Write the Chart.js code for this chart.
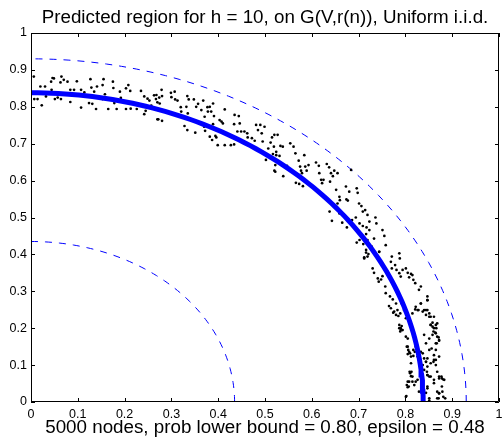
<!DOCTYPE html>
<html>
<head>
<meta charset="utf-8">
<script src="https://cdn.jsdelivr.net/npm/chart.js@4/dist/chart.umd.min.js"></script>
<style>
html, body { margin: 0; padding: 0; background: #fff; }
</style>
</head>
<body>
<canvas id="regionChart" width="503" height="439"></canvas>
<script>
// chart texts
const titleText = 'Predicted region for h = 10, on G(V,r(n)), Uniform i.i.d.';
const xLabelText = '5000 nodes, prob lower bound = 0.80, epsilon = 0.48';

// tick labels on both axes
const tickVals = [0, 0.1, 0.2, 0.3, 0.4, 0.5, 0.6, 0.7, 0.8, 0.9, 1];
const tickLabels = ['0', '0.1', '0.2', '0.3', '0.4', '0.5', '0.6', '0.7', '0.8', '0.9', '1'];

// radius of the predicted arc (solid) and of the two bounds (dashed)
const predictedRadius = 0.838;
const boundRadii = [0.435, 0.93];

// nodes, [x, y]
const nodes = [
  [0.006,0.882],[0.020,0.855],[0.007,0.821],[0.014,0.821],[0.023,0.804],[0.032,0.828],[0.030,0.855],[0.044,0.846],
  [0.046,0.878],[0.049,0.877],[0.043,0.868],[0.051,0.821],[0.057,0.825],[0.065,0.882],[0.070,0.873],[0.063,0.866],
  [0.064,0.821],[0.078,0.868],[0.084,0.846],[0.092,0.846],[0.098,0.869],[0.084,0.813],[0.107,0.798],[0.107,0.846],
  [0.114,0.839],[0.127,0.875],[0.129,0.852],[0.135,0.841],[0.124,0.810],[0.131,0.808],[0.141,0.855],[0.139,0.794],
  [0.155,0.875],[0.153,0.859],[0.158,0.834],[0.153,0.821],[0.165,0.794],[0.171,0.819],[0.175,0.868],[0.176,0.851],
  [0.178,0.810],[0.183,0.794],[0.190,0.841],[0.192,0.824],[0.203,0.794],[0.203,0.850],[0.208,0.859],[0.212,0.843],
  [0.213,0.795],[0.226,0.794],[0.235,0.843],[0.242,0.780],[0.245,0.789],[0.242,0.828],[0.249,0.822],[0.253,0.817],
  [0.257,0.803],[0.263,0.831],[0.267,0.821],[0.270,0.812],[0.274,0.825],[0.272,0.766],
  [0.268,0.832],[0.275,0.809],[0.279,0.846],[0.280,0.829],[0.270,0.766],[0.280,0.762],[0.299,0.838],[0.300,0.826],
  [0.307,0.841],[0.308,0.820],[0.313,0.817],[0.320,0.799],[0.321,0.787],[0.332,0.800],[0.334,0.829],[0.337,0.820],
  [0.335,0.782],[0.328,0.748],[0.334,0.737],[0.348,0.820],[0.353,0.800],[0.351,0.730],[0.357,0.808],[0.364,0.791],
  [0.368,0.817],[0.371,0.773],[0.370,0.746],[0.372,0.735],[0.377,0.799],[0.378,0.787],[0.382,0.800],[0.385,0.787],
  [0.389,0.809],[0.391,0.775],[0.389,0.753],[0.382,0.719],[0.387,0.710],[0.394,0.721],[0.396,0.717],[0.399,0.696],
  [0.403,0.764],[0.407,0.760],[0.410,0.755],[0.414,0.793],[0.414,0.696],[0.427,0.696],[0.434,0.698],[0.434,0.753],
  [0.435,0.778],[0.441,0.733],[0.444,0.775],[0.446,0.755],[0.449,0.733],[0.456,0.733],[0.462,0.728],[0.463,0.717],
  [0.472,0.715],[0.478,0.708],[0.481,0.751],[0.485,0.737],[0.490,0.751],[0.493,0.728],[0.495,0.706],[0.499,0.746],
  [0.507,0.687],[0.512,0.703],[0.515,0.717],[0.520,0.724],[0.527,0.724],[0.519,0.692],[0.524,0.678],[0.533,0.694],
  [0.538,0.692],[0.502,0.656],[0.522,0.642],[0.520,0.627],
  [0.517,0.672],[0.524,0.669],[0.531,0.667],[0.522,0.624],[0.539,0.612],[0.547,0.640],[0.554,0.701],[0.561,0.692],
  [0.565,0.674],[0.572,0.654],[0.575,0.638],[0.577,0.627],[0.579,0.620],[0.584,0.669],[0.586,0.638],[0.589,0.627],
  [0.593,0.642],[0.566,0.594],[0.573,0.591],[0.581,0.585],[0.609,0.649],[0.615,0.640],[0.616,0.620],[0.620,0.602],
  [0.622,0.593],[0.625,0.602],[0.632,0.645],[0.637,0.636],[0.641,0.620],[0.639,0.597],[0.645,0.612],[0.648,0.627],
  [0.652,0.575],[0.655,0.620],[0.659,0.556],[0.655,0.538],[0.660,0.547],[0.673,0.584],[0.674,0.549],[0.677,0.546],
  [0.680,0.570],[0.684,0.629],[0.696,0.579],[0.698,0.567],[0.701,0.538],[0.706,0.531],[0.638,0.516],[0.643,0.491],
  [0.659,0.511],[0.665,0.486],[0.675,0.473],[0.686,0.493],[0.694,0.500],[0.709,0.516],[0.714,0.520],[0.719,0.507],
  [0.702,0.484],[0.709,0.477],[0.717,0.473],[0.723,0.489],[0.736,0.500],[0.738,0.484],[0.723,0.466],[0.716,0.455],
  [0.702,0.439],[0.696,0.432],[0.710,0.428],[0.719,0.439],[0.733,0.443],[0.751,0.466],[0.755,0.450],[0.716,0.412],
  [0.721,0.401],[0.728,0.421],[0.744,0.407],[0.758,0.425],[0.712,0.392],
  [0.712,0.389],[0.719,0.394],[0.716,0.405],[0.744,0.407],[0.771,0.394],[0.769,0.380],[0.787,0.403],[0.788,0.389],
  [0.730,0.362],[0.733,0.350],[0.741,0.335],[0.743,0.326],[0.748,0.332],[0.751,0.341],[0.771,0.362],[0.778,0.371],
  [0.781,0.358],[0.787,0.349],[0.790,0.340],[0.794,0.358],[0.801,0.362],[0.805,0.350],[0.808,0.338],[0.812,0.347],
  [0.815,0.344],[0.817,0.331],[0.821,0.322],[0.833,0.313],[0.829,0.304],[0.757,0.313],[0.758,0.295],[0.767,0.286],
  [0.773,0.278],[0.769,0.254],[0.780,0.267],[0.774,0.242],[0.785,0.233],[0.787,0.200],[0.790,0.195],[0.792,0.206],
  [0.801,0.227],[0.815,0.240],[0.821,0.251],[0.828,0.249],[0.833,0.267],[0.837,0.245],[0.844,0.249],[0.847,0.276],
  [0.847,0.286],[0.851,0.231],[0.854,0.209],[0.858,0.215],[0.861,0.231],[0.866,0.200],[0.864,0.188],[0.871,0.175],
  [0.872,0.166],[0.858,0.182],[0.865,0.159],[0.856,0.145],[0.851,0.141],[0.872,0.123],[0.861,0.114],[0.865,0.100],
  [0.847,0.096],[0.847,0.073],[0.851,0.069],[0.847,0.042],[0.872,0.069],[0.878,0.064],[0.883,0.060],[0.878,0.042],
  [0.872,0.024],[0.871,0.010],[0.851,0.004],[0.805,0.150],[0.808,0.136],[0.812,0.123],[0.817,0.125],[0.809,0.082],
  [0.812,0.070],[0.805,0.055],[0.815,0.055],[0.807,0.042],[0.802,0.016],[0.826,0.123],[0.844,0.159],[0.851,0.172],
  [0.844,0.109],[0.847,0.118],[0.797,0.249],[0.792,0.267],[0.781,0.304],
  [0.765,0.260],[0.776,0.245],[0.780,0.236],[0.783,0.249],[0.789,0.240],[0.787,0.209],[0.790,0.200],[0.794,0.195],
  [0.789,0.191],[0.801,0.177],[0.805,0.172],[0.803,0.150],[0.806,0.141],[0.805,0.130],[0.810,0.132],[0.812,0.105],
  [0.813,0.082],[0.810,0.078],[0.815,0.069],[0.808,0.055],[0.803,0.046],[0.805,0.040],[0.801,0.014],[0.817,0.141],
  [0.820,0.136],[0.822,0.150],[0.819,0.046],[0.822,0.055],[0.826,0.060],[0.829,0.028],[0.822,0.258],[0.826,0.249],
  [0.833,0.267],[0.840,0.249],[0.844,0.236],[0.847,0.249],[0.851,0.240],[0.854,0.231],[0.847,0.276],[0.854,0.209],
  [0.858,0.204],[0.861,0.200],[0.865,0.209],[0.868,0.213],[0.860,0.191],[0.865,0.186],[0.868,0.177],[0.872,0.168],
  [0.867,0.159],[0.865,0.141],[0.861,0.127],[0.860,0.109],[0.854,0.105],[0.865,0.114],[0.840,0.182],[0.833,0.136],
  [0.837,0.132],[0.840,0.118],[0.844,0.109],[0.837,0.100],[0.840,0.087],[0.846,0.082],[0.847,0.073],[0.854,0.069],
  [0.861,0.060],[0.872,0.064],[0.877,0.069],[0.881,0.061],[0.868,0.082],[0.861,0.051],[0.847,0.037],[0.844,0.025],
  [0.868,0.028],[0.872,0.023],[0.879,0.028],[0.881,0.014],[0.851,0.010],[0.868,0.010],[0.885,0.010]
];

// quarter circle of given radius, as points for a line dataset
function arcPoints(r) {
  let pts = [];
  for (let deg = 0; deg <= 90; deg++) {
    let a = deg * Math.PI / 180;
    pts.push({x: r * Math.cos(a), y: r * Math.sin(a)});
  }
  return pts;
}

const FONT = '"Liberation Sans", Arial, Helvetica, sans-serif';

// box, inward ticks on all four sides, title over the plot
const framePlugin = {
  id: 'frame',
  afterDraw(chart) {
    const ctx = chart.ctx;
    const a = chart.chartArea;
    const x = chart.scales.x, y = chart.scales.y;
    ctx.save();
    ctx.strokeStyle = '#000';
    ctx.lineWidth = 1;
    ctx.beginPath();
    ctx.rect(a.left + 0.5, a.top + 0.5, a.right - a.left - 1, a.bottom - a.top - 1);
    tickVals.forEach(v => {
      let px = Math.round(x.getPixelForValue(v)) + 0.5;
      ctx.moveTo(px, a.bottom); ctx.lineTo(px, a.bottom - 4);
      ctx.moveTo(px, a.top); ctx.lineTo(px, a.top + 4);
      let py = Math.round(y.getPixelForValue(v)) + 0.5;
      ctx.moveTo(a.left, py); ctx.lineTo(a.left + 4, py);
      ctx.moveTo(a.right, py); ctx.lineTo(a.right - 4, py);
    });
    ctx.stroke();
    ctx.fillStyle = '#000';
    ctx.font = '18.8px ' + FONT;
    ctx.textAlign = 'center';
    ctx.textBaseline = 'alphabetic';
    ctx.fillText(titleText, (a.left + a.right) / 2, 23);
    ctx.restore();
  }
};

const datasets = [
  {
    label: 'predicted',
    type: 'line',
    data: arcPoints(predictedRadius),
    borderColor: '#0000ff',
    borderWidth: 5,
    pointRadius: 0,
    tension: 0,
    order: 0
  },
  {
    label: 'nodes',
    type: 'scatter',
    data: nodes.map(p => ({x: p[0], y: p[1]})),
    backgroundColor: '#000',
    borderWidth: 0,
    pointRadius: 1.35,
    order: 1
  }
];
boundRadii.forEach(r => {
  datasets.push({
    label: 'bound ' + r,
    type: 'line',
    data: arcPoints(r),
    borderColor: '#0000ff',
    borderWidth: 1,
    borderDash: [7, 7],
    pointRadius: 0,
    tension: 0,
    order: 2
  });
});

function tickText(v) {
  let i = tickVals.indexOf(Math.round(v * 10) / 10);
  return i >= 0 ? tickLabels[i] : '';
}

new Chart(document.getElementById('regionChart'), {
  type: 'scatter',
  data: { datasets: datasets },
  options: {
    responsive: false,
    animation: false,
    events: [],
    layout: { padding: { top: 33, right: 3, left: 0, bottom: 0 } },
    plugins: { legend: { display: false }, tooltip: { enabled: false } },
    scales: {
      x: {
        type: 'linear', min: 0, max: 1,
        grid: { display: false, drawTicks: false },
        border: { display: false },
        afterBuildTicks: s => { s.ticks = tickVals.map(v => ({value: v})); },
        afterFit: s => { s.height = 37; s.paddingLeft = 0; s.paddingRight = 0; },
        ticks: { color: '#000', padding: 5, maxRotation: 0, callback: tickText, font: { family: FONT, size: 12.5 } },
        title: { display: true, text: xLabelText, color: '#000', padding: 0, font: { family: FONT, size: 18.8 } }
      },
      y: {
        type: 'linear', min: 0, max: 1,
        grid: { display: false, drawTicks: false },
        border: { display: false },
        afterBuildTicks: s => { s.ticks = tickVals.map(v => ({value: v})); },
        afterFit: s => { s.width = 31; s.paddingTop = 0; s.paddingBottom = 0; },
        ticks: { color: '#000', padding: 4, callback: tickText, font: { family: FONT, size: 12.5 } }
      }
    }
  },
  plugins: [framePlugin]
});
</script>
</body>
</html>
